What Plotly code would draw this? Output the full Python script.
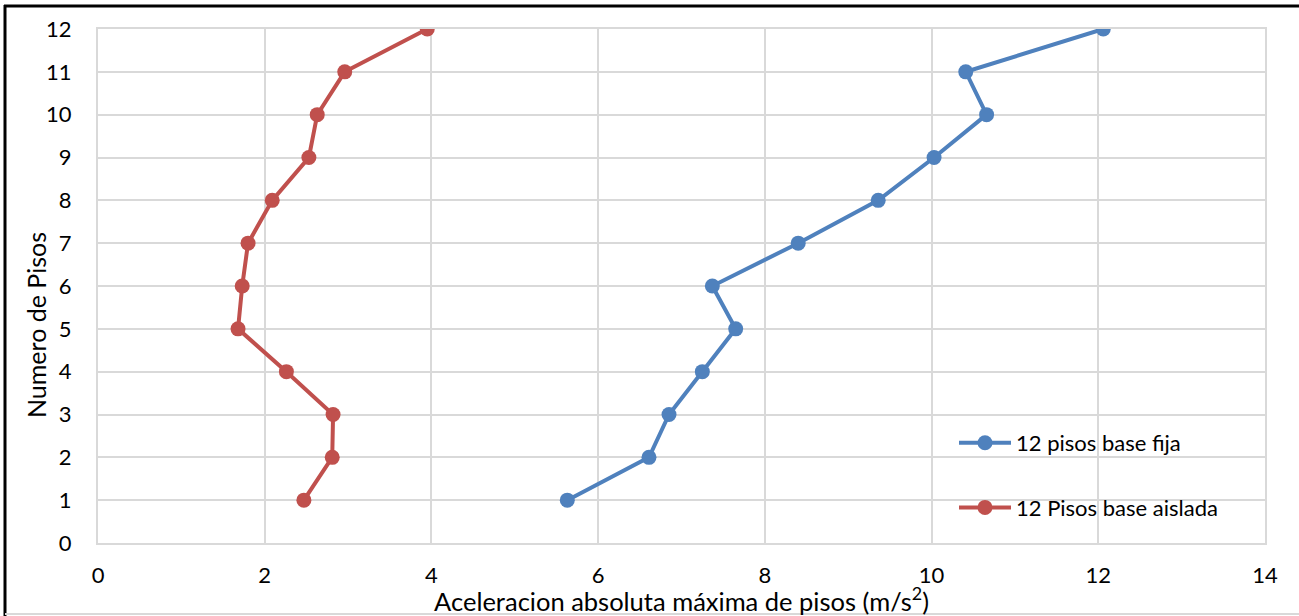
import plotly.graph_objects as go

# Floor numbers and peak absolute floor accelerations (m/s²)
pisos = [1, 2, 3, 4, 5, 6, 7, 8, 9, 10, 11, 12]
acel_base_fija = [5.63, 6.61, 6.85, 7.25, 7.65, 7.37, 8.40, 9.36, 10.03, 10.66, 10.41, 12.06]
acel_base_aislada = [2.47, 2.81, 2.82, 2.26, 1.68, 1.73, 1.80, 2.09, 2.53, 2.63, 2.96, 3.95]

x_ticks = [0, 2, 4, 6, 8, 10, 12, 14]
y_ticks = [0, 1, 2, 3, 4, 5, 6, 7, 8, 9, 10, 11, 12]

FONT = "Lato"
GRID = "#d9d9d9"

fig = go.Figure()
fig.add_trace(go.Scatter(
    x=acel_base_fija, y=pisos, mode="lines+markers",
    name="12 pisos base fija", legendgroup="a",
    line=dict(color="#4f81bd", width=4),
    marker=dict(color="#4f81bd", size=15),
))
fig.add_trace(go.Scatter(
    x=acel_base_aislada, y=pisos, mode="lines+markers",
    name="12 Pisos base aislada", legendgroup="b",
    line=dict(color="#c0504d", width=4),
    marker=dict(color="#c0504d", size=15),
))

W, H = 1299, 616
L, R, T, B = 98, 34, 29, 73
pw, ph = W - L - R, H - T - B

def px(xp):
    return (xp - L) / pw

def py(yp):
    return (H - B - yp) / ph

fig.update_layout(
    width=W, height=H,
    margin=dict(l=L, r=R, t=T, b=B),
    paper_bgcolor="white", plot_bgcolor="white",
    font=dict(family=FONT, size=22, color="black"),
    showlegend=True,
    legend=dict(
        x=px(954), y=py(422), xanchor="left", yanchor="top",
        bgcolor="rgba(0,0,0,0)", traceorder="grouped", tracegroupgap=33,
        font=dict(family=FONT, size=22, color="black"),
        itemwidth=52,
    ),
    xaxis=dict(
        range=[0, 14], tickvals=x_ticks, ticktext=[str(v) for v in x_ticks],
        showgrid=True, gridcolor=GRID, gridwidth=2,
        showline=True, linecolor=GRID, linewidth=2, mirror=True,
        zeroline=False, ticks="", ticklabelstandoff=12, automargin=False,
        tickfont=dict(family=FONT, size=22),
        title=dict(text="Aceleracion absoluta máxima de pisos (m/s<sup>2</sup>)",
                   font=dict(family=FONT, size=25.5), standoff=0),
    ),
    yaxis=dict(
        range=[0, 12], tickvals=y_ticks, ticktext=[str(v) for v in y_ticks],
        showgrid=True, gridcolor=GRID, gridwidth=2,
        showline=True, linecolor=GRID, linewidth=2, mirror=True,
        zeroline=False, ticks="", ticklabelstandoff=20, automargin=False,
        tickfont=dict(family=FONT, size=22),
    ),
    annotations=[
        dict(text="Numero de Pisos", xref="paper", yref="paper",
             x=px(36), y=py(325), xanchor="center", yanchor="middle",
             textangle=-90, showarrow=False,
             font=dict(family=FONT, size=25, color="black")),
    ],
    shapes=[
        dict(type="line", xref="paper", yref="paper", x0=px(4), x1=px(W + 5), y0=py(6), y1=py(6),
             line=dict(color="black", width=3)),
        dict(type="line", xref="paper", yref="paper", x0=px(5), x1=px(5), y0=py(5), y1=py(H + 5),
             line=dict(color="black", width=3)),
        dict(type="line", xref="paper", yref="paper", x0=px(5), x1=px(W + 5), y0=py(614), y1=py(614),
             line=dict(color=GRID, width=2)),
    ],
)

fig.write_html("out.html")
